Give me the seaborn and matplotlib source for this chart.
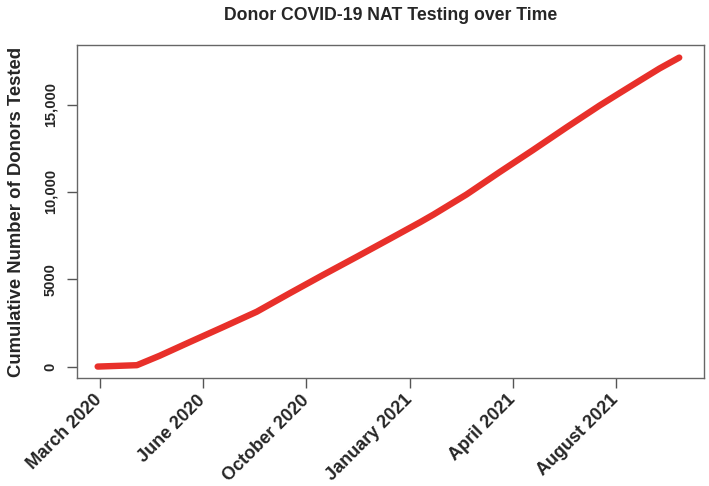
import matplotlib
matplotlib.use('Agg')
import matplotlib.pyplot as plt
import seaborn as sns
import pandas as pd

# cumulative donors tested
dates = ['2020-03-18', '2020-04-25', '2020-05-17', '2020-06-15', '2020-07-17',
         '2020-08-19', '2020-09-20', '2020-10-22', '2020-11-24', '2020-12-26',
         '2021-01-24', '2021-02-06', '2021-03-10', '2021-04-11', '2021-05-13',
         '2021-06-15', '2021-07-17', '2021-08-05', '2021-08-25', '2021-09-13',
         '2021-10-02']
donors = [0, 80, 620, 1400, 2250, 3140, 4200, 5240, 6290, 7320,
          8260, 8700, 9850, 11130, 12380, 13700, 14950, 15650, 16380, 17070,
          17690]

tick_dates = ['2020-03-20', '2020-06-28', '2020-10-06', '2021-01-14', '2021-04-24', '2021-08-02']
tick_labels = ['March 2020', 'June 2020', 'October 2020', 'January 2021', 'April 2021', 'August 2021']
y_ticks = [0, 5000, 10000, 15000]
y_labels = ['0', '5000', '10,000', '15,000']

df = pd.DataFrame({'date': pd.to_datetime(dates), 'donors': donors})

sns.set_style('white')
plt.rcParams['font.family'] = ['Liberation Sans', 'DejaVu Sans']
plt.rcParams['font.weight'] = 'bold'

fig = plt.figure(figsize=(7.09, 4.86), dpi=100)
ax = fig.add_axes([0.1086, 0.222, 0.8844, 0.685])

sns.lineplot(data=df, x='date', y='donors', ax=ax, color='#e8302a',
             linewidth=4.6, solid_capstyle='round', solid_joinstyle='round')

start = pd.Timestamp('2020-03-20')
ax.set_xlim(start - pd.Timedelta(days=22), start + pd.Timedelta(days=585))
ax.set_ylim(-660, 18400)

ax.set_xticks(pd.to_datetime(tick_dates))
ax.set_xticklabels(tick_labels, rotation=45, ha='right', va='center',
                   rotation_mode='anchor', fontsize=13, fontweight='bold')
ax.set_yticks(y_ticks)
ax.set_yticklabels(y_labels, rotation=90, va='center', fontsize=10.5, fontweight='bold')

ax.tick_params(axis='both', direction='out', length=7, width=1, color='#555555',
               left=True, bottom=True)
ax.tick_params(axis='x', pad=7)
ax.tick_params(axis='y', pad=7)
for s in ax.spines.values():
    s.set_visible(True)
    s.set_color('#666666')
    s.set_linewidth(1)

ax.set_xlabel('')
ax.set_ylabel('Cumulative Number of Donors Tested', fontsize=13.3, fontweight='bold', labelpad=13)
ax.set_title('Donor COVID-19 NAT Testing over Time', fontsize=12.7, fontweight='bold', pad=18)

fig.savefig('out.png', dpi=100)
